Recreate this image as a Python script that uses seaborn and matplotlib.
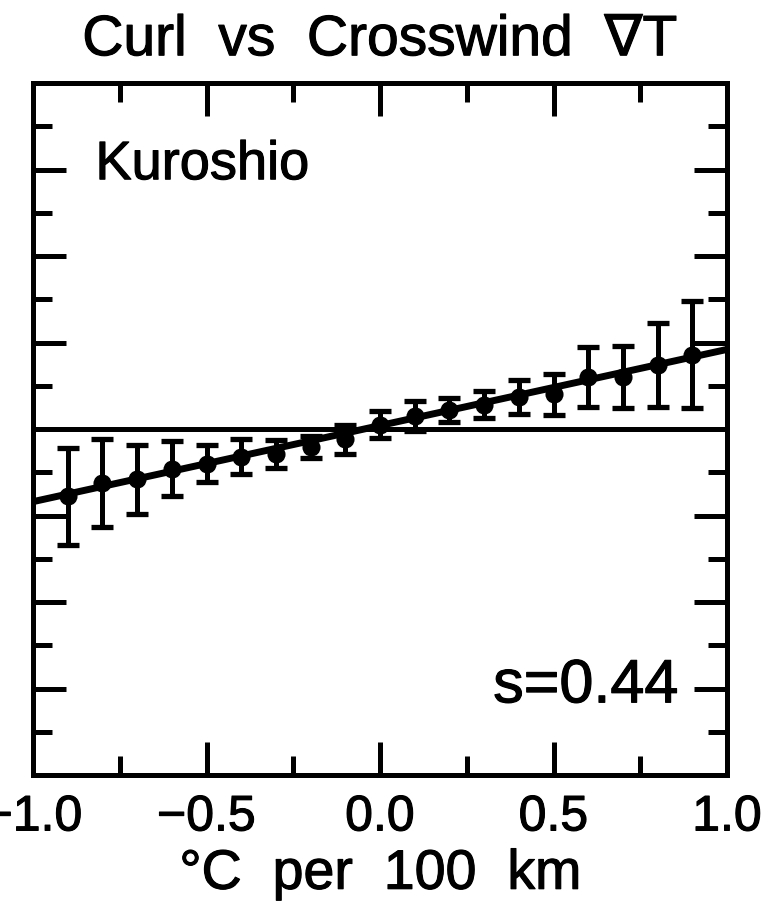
import numpy as np
import pandas as pd
import matplotlib
matplotlib.use("Agg")
import matplotlib.pyplot as plt
import matplotlib.patheffects as pe
from matplotlib.ticker import MultipleLocator
import seaborn as sns

# binned crosswind SST gradient (deg C per 100 km)
grad_bins = [-0.9, -0.8, -0.7, -0.6, -0.5, -0.4, -0.3, -0.2, -0.1, 0.0,
             0.1, 0.2, 0.3, 0.4, 0.5, 0.6, 0.7, 0.8, 0.9]
# bin-mean wind stress curl
curl_mean = [-0.39, -0.31, -0.29, -0.23, -0.20, -0.16, -0.145, -0.105, -0.06, 0.025,
             0.075, 0.11, 0.14, 0.185, 0.20, 0.30, 0.30, 0.37, 0.43]
# +/- one standard deviation
curl_err = [0.28, 0.255, 0.20, 0.16, 0.105, 0.10, 0.08, 0.065, 0.085, 0.078,
            0.087, 0.07, 0.078, 0.098, 0.12, 0.175, 0.18, 0.24, 0.31]
fit_slope = 0.44
fit_intercept = 0.02
x_fit_range = [-1.0, 1.0]

df = pd.DataFrame({"grad": grad_bins, "curl": curl_mean, "err": curl_err})
df_fit = pd.DataFrame({"grad": x_fit_range})
df_fit["curl"] = fit_intercept + fit_slope * df_fit["grad"]

sns.set_style("white")
plt.rcParams["font.family"] = ["Liberation Sans", "DejaVu Sans"]
plt.rcParams["text.color"] = "black"
plt.rcParams["xtick.color"] = "black"
plt.rcParams["ytick.color"] = "black"
plt.rcParams["axes.labelcolor"] = "black"

# IDL-style fonts render a bit heavier than regular Helvetica
bold_fx = [pe.withStroke(linewidth=0.8, foreground="black")]

fig = plt.figure(figsize=(7.78, 9.2), dpi=100)
ax = fig.add_axes([33 / 778, 1 - 776 / 920, 694 / 778, 692 / 920])

# zero line and regression fit
ax.axhline(0, color="black", lw=3.6, zorder=1)
sns.lineplot(data=df_fit, x="grad", y="curl", color="black", lw=5.0, ax=ax, zorder=2)

# bin means with error bars
ax.errorbar(df["grad"], df["curl"], yerr=df["err"], fmt="none", ecolor="black",
            elinewidth=3.6, capsize=8, capthick=3.8, zorder=3)
sns.scatterplot(data=df, x="grad", y="curl", color="black", s=170, edgecolor="black",
                linewidth=0, ax=ax, zorder=4)

ax.set_xlim(-1.0, 1.0)
ax.set_ylim(-2.0, 2.0)
ax.xaxis.set_major_locator(MultipleLocator(0.5))
ax.xaxis.set_minor_locator(MultipleLocator(0.25))
ax.yaxis.set_major_locator(MultipleLocator(0.5))
ax.yaxis.set_minor_locator(MultipleLocator(0.25))
ax.tick_params(which="both", direction="in", top=True, right=True, left=True, bottom=True,
               width=3.6, color="black")
ax.tick_params(which="major", length=24)
ax.tick_params(which="minor", length=14)
ax.tick_params(axis="x", labelsize=36, pad=14)
ax.tick_params(axis="y", labelleft=False)
for sp in ax.spines.values():
    sp.set_linewidth(3.6)
    sp.set_color("black")

ax.set_xlabel("°C  per  100  km", fontsize=40, labelpad=6)
ax.set_ylabel("")
ax.set_title("Curl  vs  Crosswind  ∇T", fontsize=41, pad=20)

ax.text(0.09, 0.861, "Kuroshio", transform=ax.transAxes, fontsize=39, ha="left", va="baseline")
ax.text(0.93, 0.105, "s=0.44", transform=ax.transAxes, fontsize=44, ha="right", va="baseline")

fig.canvas.draw()
for t in ax.get_xticklabels() + [ax.xaxis.label, ax.title] + ax.texts:
    t.set_path_effects(bold_fx)

fig.savefig("out.png", dpi=100)
plt.close(fig)
